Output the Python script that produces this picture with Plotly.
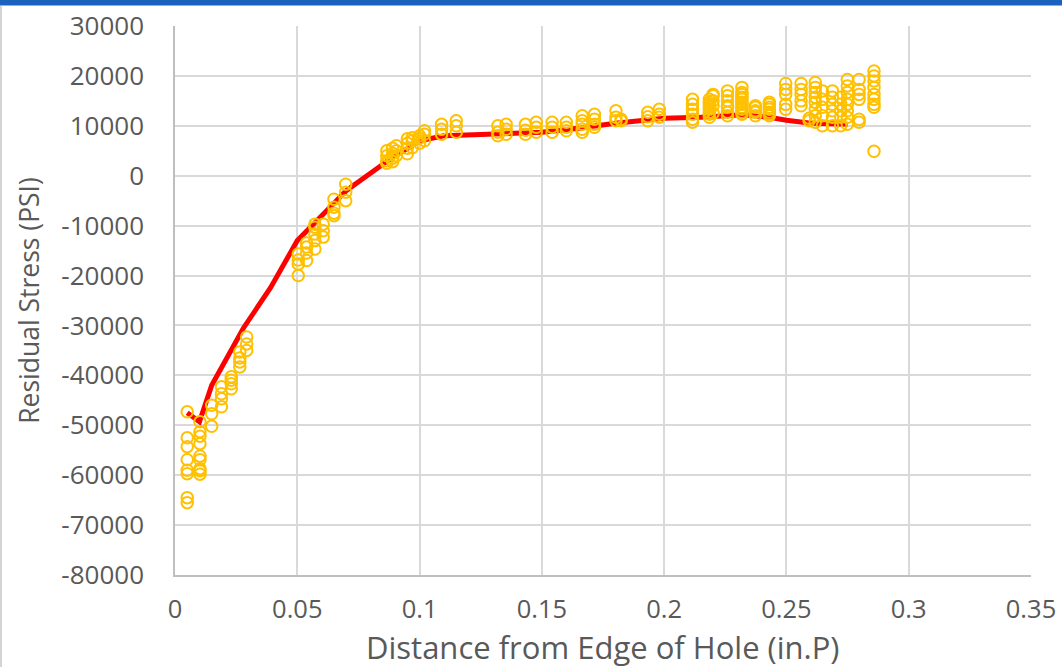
import plotly.graph_objects as go

# ---- data ----
fit_x = [0.005, 0.010, 0.015, 0.028, 0.039, 0.050, 0.060, 0.070, 0.087, 0.100, 0.110,
         0.130, 0.150, 0.165, 0.180, 0.200, 0.215, 0.232, 0.243, 0.250, 0.260, 0.275]
fit_y = [-47500, -49300, -42000, -30500, -22500, -13000, -8000, -3000, 3000, 7000, 8000,
         8300, 8700, 9500, 10500, 11500, 11700, 12200, 11700, 11100, 10500, 10300]

cluster_x = [0.005, 0.0102, 0.015, 0.019, 0.023, 0.0265, 0.0293,
             0.0504, 0.0538, 0.0572, 0.0606, 0.065, 0.0698,
             0.0866, 0.089, 0.0905, 0.095, 0.097, 0.100, 0.102, 0.109, 0.115,
             0.132, 0.1354, 0.1433, 0.1477, 0.1542, 0.160, 0.1665, 0.1715,
             0.1803, 0.1824, 0.1933, 0.198,
             0.2116, 0.2185, 0.220, 0.2259, 0.2318, 0.2373, 0.243,
             0.2497, 0.256, 0.2593, 0.2618, 0.2647, 0.2688, 0.2722, 0.2749, 0.2797, 0.2858]
cluster_y = [
    [-47300, -52500, -54300, -56900, -59000, -59700, -64500, -65500],
    [-49300, -51300, -52200, -53700, -56200, -56900, -58700, -59100, -59800],
    [-46000, -47700, -50200],
    [-42300, -43700, -44700, -46300],
    [-40300, -41000, -41700, -42700],
    [-35300, -36500, -37300, -38300],
    [-32300, -33700, -35000],
    [-15700, -16900, -17700, -20000],
    [-13500, -14300, -15500, -17000],
    [-9700, -10300, -11700, -13000, -14700],
    [-9700, -11000, -12300],
    [-4700, -6300, -7500, -8000],
    [-1700, -3300, -5000],
    [2500, 3000, 4000, 5000],
    [2800, 3500, 4500, 5500],
    [4000, 5000, 6000],
    [4400, 5500, 6500, 7400],
    [5600, 7000, 7600],
    [6500, 7500, 8000],
    [7000, 8300, 9000],
    [8300, 9300, 10300],
    [8700, 10000, 11000],
    [8000, 8700, 10000],
    [8300, 9300, 10300],
    [8300, 9100, 10300],
    [8700, 9700, 10700],
    [8700, 9700, 10700],
    [9000, 9700, 10700],
    [8700, 9300, 10300, 11000, 12000],
    [9700, 10300, 11300, 12300],
    [11000, 11700, 13000],
    [11000, 11300],
    [11000, 11800, 12700],
    [11700, 12300, 13300],
    [10700, 11300, 12300, 13300, 14300, 15300],
    [11700, 12300, 12700, 13300, 13700, 14300, 14700, 15300],
    [12500, 14000, 15000, 16000, 16300],
    [12000, 12700, 13700, 14000, 15000, 16000, 17000],
    [12300, 12700, 13300, 13700, 14300, 14700, 15300, 15700, 16300, 16700, 17700],
    [12000, 12700, 13000, 13700, 14000],
    [12000, 12300, 12700, 13300, 13700, 14300, 14700],
    [13300, 14300, 16300, 17300, 18500],
    [14000, 15000, 16300, 17300, 18500],
    [11000, 11500],
    [10700, 12000, 13300, 14700, 15700, 16700, 17700, 18700],
    [10000, 12000, 13700, 15300, 17000],
    [10000, 11700, 13000, 14300, 15700, 17000],
    [10000, 11700, 13000, 14300, 15700],
    [10300, 11700, 13000, 14300, 15300, 16700, 18000, 19300],
    [10700, 11300, 15300, 16300, 17300, 19300],
    [4900, 13700, 14300, 15300, 16300, 17700, 19000, 20000, 21000],
]

x_ticks = [0, 0.05, 0.1, 0.15, 0.2, 0.25, 0.3, 0.35]
x_tick_text = ["0", "0.05", "0.1", "0.15", "0.2", "0.25", "0.3", "0.35"]
y_ticks = [30000, 20000, 10000, 0, -10000, -20000, -30000, -40000, -50000, -60000, -70000, -80000]
y_tick_text = [str(v) for v in y_ticks]

pts_x = []
pts_y = []
for cx, ys in zip(cluster_x, cluster_y):
    for v in ys:
        pts_x.append(cx)
        pts_y.append(v)

FONT = "Open Sans"
GRID = "#d9d9d9"

fig = go.Figure()
fig.add_trace(go.Scatter(x=fit_x, y=fit_y, mode="lines",
                         line=dict(color="#ff0000", width=5),
                         hoverinfo="skip", showlegend=False))
fig.add_trace(go.Scatter(x=pts_x, y=pts_y, mode="markers",
                         marker=dict(symbol="circle-open", size=11.5, color="#ffc000",
                                     line=dict(width=2, color="#ffc000")),
                         showlegend=False))

fig.update_layout(
    width=1062, height=667,
    margin=dict(l=175, r=31, t=26, b=92, autoexpand=False),
    paper_bgcolor="white", plot_bgcolor="white",
    font=dict(family=FONT, color="#595959"),
    xaxis=dict(range=[0, 0.35], tickvals=x_ticks, ticktext=x_tick_text,
               showgrid=True, gridcolor=GRID, gridwidth=1.5,
               showline=True, linecolor="#bfbfbf", linewidth=1.5,
               zeroline=False, ticks="outside", ticklen=11, tickcolor="rgba(0,0,0,0)",
               tickfont=dict(family=FONT, size=25.5, color="#595959")),
    yaxis=dict(range=[-80000, 30000], tickvals=y_ticks, ticktext=y_tick_text,
               showgrid=True, gridcolor=GRID, gridwidth=1.5,
               showline=True, linecolor="#bfbfbf", linewidth=1.5,
               zeroline=False, ticks="outside", ticklen=24, tickcolor="rgba(0,0,0,0)",
               tickfont=dict(family=FONT, size=26, color="#595959"),
               title=dict(text="Residual Stress (PSI)", standoff=14,
                          font=dict(family=FONT, size=26.5, color="#595959"))),
    annotations=[
        dict(text="Distance from Edge of Hole (in.P)", xref="paper", yref="paper",
             x=0.5, y=-72 / 549, xanchor="center", yanchor="middle", showarrow=False,
             font=dict(family=FONT, size=31, color="#595959")),
    ],
    shapes=[
        dict(type="rect", xref="paper", yref="paper",
             x0=-175 / 856, x1=(1062 - 175) / 856,
             y0=(575 - 5.5) / 549, y1=(575 + 2) / 549 + 1,
             fillcolor="#1a62bd", line=dict(width=0), layer="above"),
        dict(type="line", xref="paper", yref="paper",
             x0=-174 / 856, x1=-174 / 856,
             y0=-92 / 549, y1=(575 - 6) / 549,
             line=dict(color="#d4d4d4", width=2)),
    ],
)

fig.write_html("out.html")
